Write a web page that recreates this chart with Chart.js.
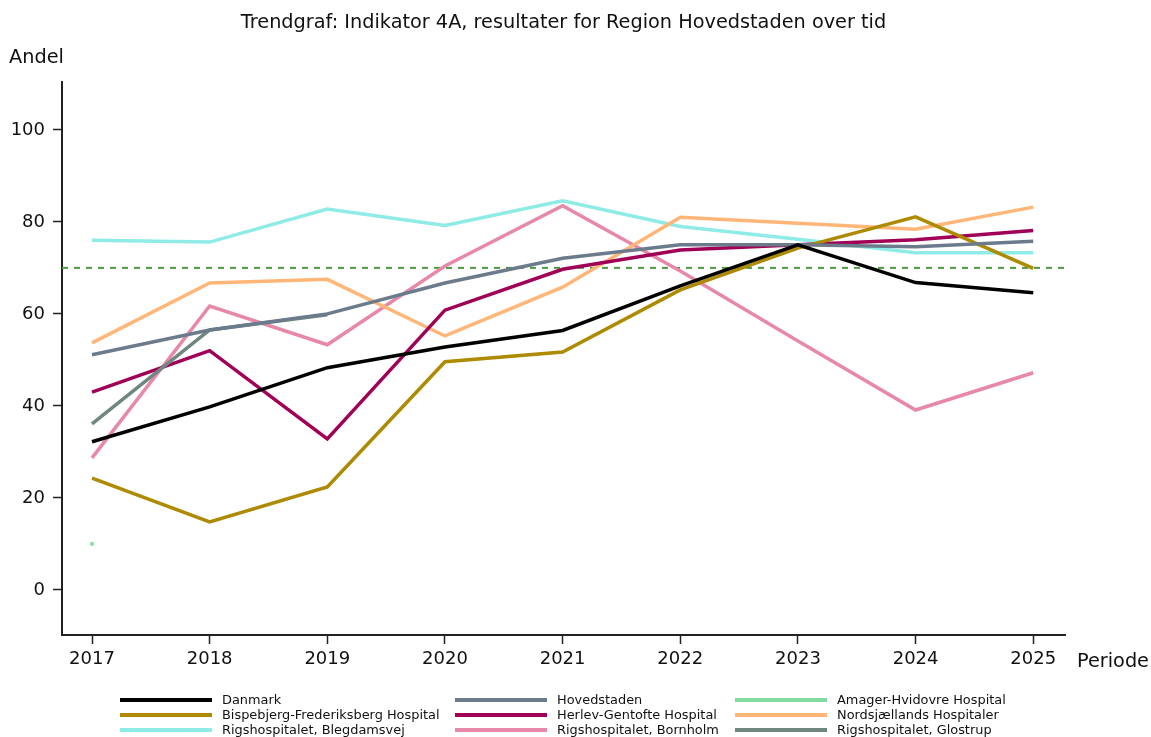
<!DOCTYPE html>
<html>
<head>
<meta charset="utf-8">
<script src="https://cdn.jsdelivr.net/npm/chart.js@4"></script>
<style>
  html, body { margin: 0; padding: 0; background: #fff; overflow: hidden; }
  #wrap { position: relative; width: 1151px; height: 737px; }
  #c { position: absolute; left: 0; top: 0; }
  #legend { position: absolute; left: 0; top: 0; width: 1151px; height: 737px; pointer-events: none;
            font-family: 'DejaVu Sans', sans-serif; font-size: 12.9px; color: #111; }
  .li { position: absolute; height: 14px; line-height: 14px; display: flex; align-items: center; white-space: nowrap; }
  .ln { display: inline-block; width: 92px; height: 4px; margin-right: 10px; }
</style>
</head>
<body>
<div id="wrap">
  <canvas id="c" width="1151" height="737"></canvas>
  <div id="legend"></div>
</div>
<script>
// ---- Data ----
const years = [2017, 2018, 2019, 2020, 2021, 2022, 2023, 2024, 2025];
const yTicks = [0, 20, 40, 60, 80, 100];
const threshold = 70;

const seriesNames = [
  'Danmark', 'Hovedstaden', 'Amager-Hvidovre Hospital',
  'Bispebjerg-Frederiksberg Hospital', 'Herlev-Gentofte Hospital', 'Nordsjællands Hospitaler',
  'Rigshospitalet, Blegdamsvej', 'Rigshospitalet, Bornholm', 'Rigshospitalet, Glostrup'
];

const danmark     = [32.2, 39.8, 48.3, 52.8, 56.4, 66.1, 75.0, 66.8, 64.6];
const hovedstaden = [51.1, 56.5, 60.0, 66.7, 72.1, 75.0, 75.0, 74.6, 75.8];
const amager      = [10.0, null, null, null, null, null, null, null, null];
const bispebjerg  = [24.3, 14.8, 22.4, 49.6, 51.7, 65.2, 74.3, 81.1, 69.9];
const herlev      = [43.0, 52.0, 32.8, 60.8, 69.7, 73.9, 75.0, 76.1, 78.1];
const nordsj      = [53.7, 66.7, 67.5, 55.2, 65.8, 81.0, 79.7, 78.4, 83.2];
const blegdamsvej = [76.0, 75.6, 82.8, 79.2, 84.6, 79.0, 76.2, 73.3, 73.3];
const bornholm    = [28.7, 61.7, 53.3, 70.4, 83.5, 69.3, 54.1, 39.1, 47.2];
const glostrup    = [36.1, 56.5, 59.8, null, null, null, null, null, null];

const seriesValues = [danmark, hovedstaden, amager, bispebjerg, herlev, nordsj, blegdamsvej, bornholm, glostrup];
const seriesColors = ['#000000', '#6C7B8B', '#7FDBA0', '#AD8A00', '#A00055', '#FFB677', '#8EEBE5', '#E888A8', '#6F8780'];

// ---- Build datasets ----
const toPts = arr => years.map((yr, i) => ({ x: yr, y: arr[i] }));
const datasets = seriesNames.map((name, i) => ({
  label: name,
  data: toPts(seriesValues[i]),
  borderColor: seriesColors[i],
  backgroundColor: seriesColors[i],
  borderWidth: 3.5,
  pointRadius: name.startsWith('Amager') ? 2.5 : 0,
  pointStyle: 'rect',
  pointBorderWidth: 0,
  spanGaps: false,
  tension: 0,
  fill: false
}));
const orderMap = { 'Danmark': 0, 'Hovedstaden': 3, 'Rigshospitalet, Glostrup': 4 };
datasets.forEach((d, i) => { d.order = (orderMap[d.label] !== undefined) ? orderMap[d.label] : 5 + i; });

const FONT = "'DejaVu Sans', sans-serif";

const extras = {
  id: 'extras',
  beforeDatasetsDraw(chart) {
    const { ctx, chartArea, scales } = chart;
    const y = scales.y.getPixelForValue(threshold);
    ctx.save();
    ctx.strokeStyle = '#4A9A3E';
    ctx.lineWidth = 2;
    ctx.setLineDash([6, 6]);
    ctx.beginPath();
    ctx.moveTo(chartArea.left, y);
    ctx.lineTo(chartArea.right, y);
    ctx.stroke();
    ctx.restore();
  },
  afterDraw(chart) {
    const { ctx, chartArea } = chart;
    ctx.save();
    ctx.fillStyle = '#111';
    ctx.textBaseline = 'middle';
    ctx.font = '19.3px ' + FONT;
    ctx.textAlign = 'center';
    ctx.fillText('Trendgraf: Indikator 4A, resultater for Region Hovedstaden over tid', (chartArea.left + chartArea.right) / 2, 23);
    ctx.textAlign = 'left';
    ctx.fillText('Andel', 9, 58);
    ctx.fillText('Periode', chartArea.right + 12, 662);
    ctx.restore();
  }
};

new Chart(document.getElementById('c'), {
  type: 'line',
  data: { datasets },
  options: {
    responsive: false,
    animation: false,
    layout: { padding: { left: 0, top: 82, right: 86, bottom: 62 } },
    plugins: { legend: { display: false }, title: { display: false }, tooltip: { enabled: false } },
    scales: {
      x: {
        type: 'linear',
        min: 2016.745,
        max: 2025.27,
        afterBuildTicks: s => { s.ticks = years.map(v => ({ value: v })); },
        afterFit: s => { s.height = 40; },
        grid: { display: true, drawOnChartArea: false, drawTicks: true, tickLength: 9, tickWidth: 1.5, tickColor: '#222' },
        border: { display: true, color: '#222', width: 2 },
        ticks: { color: '#111', font: { family: FONT, size: 18 }, padding: 5, maxRotation: 0, autoSkip: false,
                 callback: v => String(v) }
      },
      y: {
        type: 'linear',
        min: -9.8,
        max: 110.4,
        afterBuildTicks: s => { s.ticks = yTicks.map(v => ({ value: v })); },
        afterFit: s => { s.width = 62; },
        grid: { display: true, drawOnChartArea: false, drawTicks: true, tickLength: 9, tickWidth: 1.5, tickColor: '#222' },
        border: { display: true, color: '#222', width: 2 },
        ticks: { color: '#111', font: { family: FONT, size: 18 }, padding: 8, callback: v => String(v) }
      }
    }
  },
  plugins: [extras]
});

// ---- HTML legend (3 columns, row-major) ----
const legend = document.getElementById('legend');
const colX = [120, 455, 735];
const rowY = [699.5, 715, 730];
seriesNames.forEach((name, i) => {
  const el = document.createElement('div');
  el.className = 'li';
  el.style.left = colX[i % 3] + 'px';
  el.style.top = (rowY[Math.floor(i / 3)] - 7) + 'px';
  const ln = document.createElement('span');
  ln.className = 'ln';
  ln.style.background = seriesColors[i];
  const tx = document.createElement('span');
  tx.textContent = name;
  el.appendChild(ln);
  el.appendChild(tx);
  legend.appendChild(el);
});
</script>
</body>
</html>
